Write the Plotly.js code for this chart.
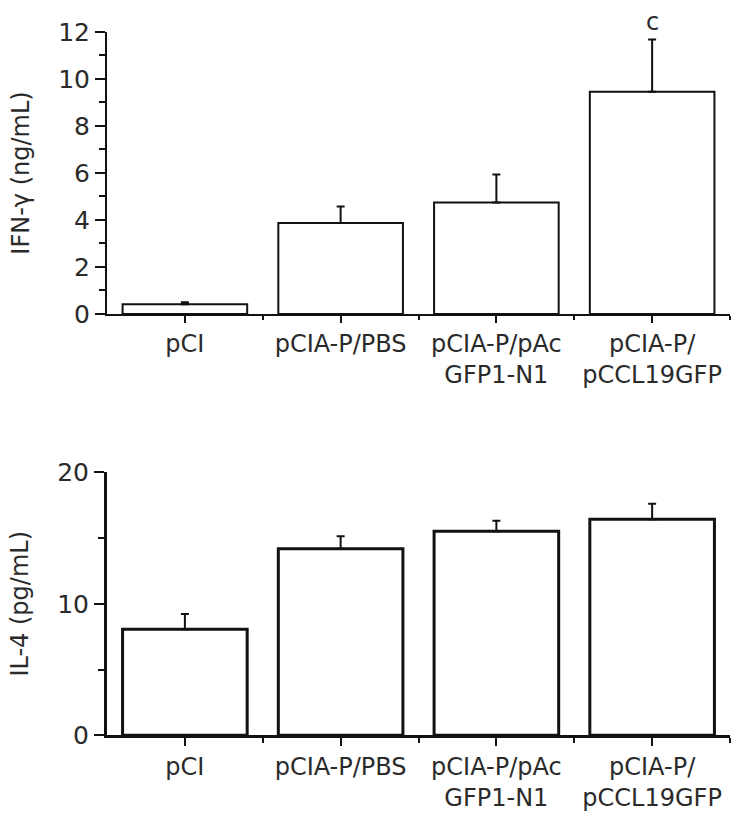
<!DOCTYPE html>
<html>
<head>
<meta charset="utf-8">
<script src="https://cdn.plot.ly/plotly-3.0.1.min.js"></script>
<style>
  html, body { margin: 0; padding: 0; background: #fff; }
  #chart { width: 740px; height: 814px; }
</style>
</head>
<body>
<div id="chart"></div>
<script>
const categories = ['pCI', 'pCIA-P/PBS', 'pCIA-P/pAc<br>GFP1-N1', 'pCIA-P/<br>pCCL19GFP'];
const ifnMean = [0.41, 3.87, 4.74, 9.46];
const ifnErr = [0.09, 0.70, 1.19, 2.22];
const il4Mean = [8.06, 14.19, 15.51, 16.43];
const il4Err = [1.16, 0.94, 0.81, 1.18];
const ifnSig = ['', '', '', 'c'];
const ifnTicks = [0, 2, 4, 6, 8, 10, 12];
const il4Ticks = [0, 10, 20];

const positions = categories.map((_, i) => i);
const boundaries = categories.map((_, i) => i + 0.5);
const textFont = { family: 'DejaVu Sans, Arial, sans-serif', size: 24, color: '#2a2a2a' };
const numFont = { family: 'DejaVu Sans, Arial, sans-serif', size: 25, color: '#2a2a2a' };

function barTrace(values, errs, xa, ya, lw) {
  return {
    type: 'bar',
    x: positions,
    y: values,
    xaxis: xa,
    yaxis: ya,
    width: 0.8,
    marker: { color: '#fff', line: { color: '#111', width: lw } },
    error_y: {
      type: 'data',
      symmetric: false,
      array: errs,
      arrayminus: errs.map(() => 0),
      color: '#111',
      thickness: 2,
      width: 4
    },
    hoverinfo: 'skip'
  };
}

function xAxis(anchor, lw, len) {
  return {
    anchor: anchor,
    domain: [0, 1],
    range: [-0.5, 3.5],
    tickmode: 'array',
    tickvals: positions,
    ticktext: categories,
    ticks: 'outside',
    ticklen: len,
    tickwidth: 2,
    tickcolor: '#111',
    showline: true,
    linecolor: '#111',
    linewidth: lw,
    showgrid: false,
    zeroline: false,
    tickfont: textFont,
    minor: {
      tickmode: 'array',
      tickvals: boundaries,
      ticks: 'outside',
      ticklen: len - 3,
      tickwidth: 2,
      tickcolor: '#111',
      showgrid: false
    }
  };
}

function yAxis(domain, range, ticks, minorDtick, lw, title) {
  return {
    domain: domain,
    range: range,
    tickmode: 'array',
    tickvals: ticks,
    ticks: 'outside',
    ticklen: 10,
    tickwidth: 2,
    tickcolor: '#111',
    showline: true,
    linecolor: '#111',
    linewidth: lw,
    showgrid: false,
    zeroline: false,
    tickfont: numFont,
    minor: { dtick: minorDtick, ticks: 'outside', ticklen: 6, tickwidth: 2, tickcolor: '#111', showgrid: false },
    title: { text: title, font: textFont, standoff: 22 }
  };
}

const traces = [
  barTrace(ifnMean, ifnErr, 'x', 'y', 2),
  barTrace(il4Mean, il4Err, 'x2', 'y2', 3)
];

const annotations = ifnSig.map((s, i) => ({
  x: positions[i],
  y: ifnMean[i] + ifnErr[i],
  xref: 'x',
  yref: 'y',
  text: s,
  showarrow: false,
  yanchor: 'bottom',
  yshift: 2,
  font: textFont
})).filter(a => a.text);

const layout = {
  width: 740,
  height: 814,
  margin: { l: 107, r: 10, t: 0, b: 0 },
  paper_bgcolor: '#fff',
  plot_bgcolor: '#fff',
  showlegend: false,
  font: textFont,
  xaxis: xAxis('y', 2, 7),
  xaxis2: xAxis('y2', 3, 8),
  yaxis: yAxis([0.6143, 0.9607], [0, 12], ifnTicks, 1, 2, 'IFN-γ (ng/mL)'),
  yaxis2: yAxis([0.0967, 0.4198], [0, 20], il4Ticks, 5, 3, 'IL-4 (pg/mL)'),
  annotations: annotations
};

Plotly.newPlot('chart', traces, layout, { displayModeBar: false, staticPlot: true });
</script>
</body>
</html>
